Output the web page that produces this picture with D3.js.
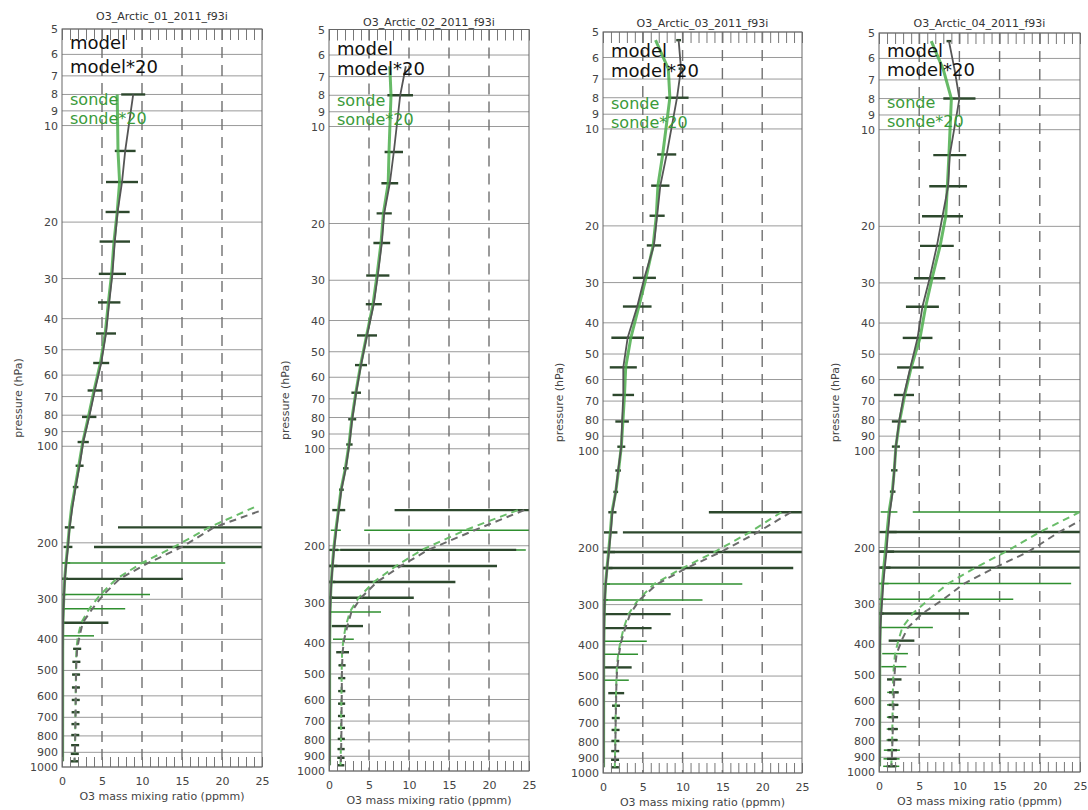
<!DOCTYPE html>
<html>
<head>
<meta charset="utf-8">
<script src="https://cdn.jsdelivr.net/npm/d3@7"></script>
<style>
  body { margin: 0; background: #fff; }
  svg { display: block; font-family: "DejaVu Sans", "Liberation Sans", sans-serif; }
</style>
</head>
<body>
<svg id="chart" width="1088" height="810"></svg>
<script>
// Pressure levels (hPa) shared by all profiles
const levels = [5.3, 6.5, 8, 12, 15, 18.6, 23, 29, 35.6, 44.5, 55, 67, 81, 97, 115, 134, 155, 179,
  206, 231, 259, 290, 321, 355, 390, 428, 470, 515, 565, 618, 675, 735, 795, 855, 910, 960];

const titles = ["O3_Arctic_01_2011_f93i", "O3_Arctic_02_2011_f93i", "O3_Arctic_03_2011_f93i", "O3_Arctic_04_2011_f93i"];
const yTicks = [5, 6, 7, 8, 9, 10, 20, 30, 40, 50, 60, 70, 80, 90, 100, 200, 300, 400, 500, 600, 700, 800, 900, 1000];
const xTicks = [0, 5, 10, 15, 20, 25];
const xGrid = [5, 10, 15, 20];
const legendLabels = ["model", "model*20", "sonde", "sonde*20"];
const scaleFactor = 20;      // tropospheric profiles are also shown multiplied by this
const scaledFrom = 150;      // hPa: the x20 profiles cover pressures at or below this level

// O3 mass mixing ratio (ppmm), one entry per level
const model01 = [null, null, 8.9, 7.9, 7.5, 6.95, 6.6, 6.3, 5.9, 5.5, 4.9, 4.1, 3.4, 2.65, 2.2, 1.7, 1.3, 0.95,
  0.75, 0.54, 0.36, 0.26, 0.19, 0.13, 0.11, 0.095, 0.09, 0.088, 0.087, 0.086, 0.085, 0.084, 0.083, 0.082, 0.08, 0.078];
const sonde01 = [null, null, 6.9, 7.0, 7.2, 6.9, 6.5, 6.2, 5.8, 5.4, 4.8, 4.0, 3.3, 2.6, 2.1, 1.65, 1.2, 0.92,
  0.7, 0.5, 0.34, 0.24, 0.17, 0.12, 0.1, 0.09, 0.088, 0.087, 0.086, 0.085, 0.084, 0.083, 0.082, 0.081, 0.08, 0.078];
const modelErr01 = [null, null, 1.5, 1.3, 2.0, 1.5, 1.9, 1.7, 1.4, 1.25, 1.0, 0.9, 0.9, 0.7, 0.5, 0.35, 0.04, 0.6,
  0.55, null, 0.395, null, null, 0.16, null, 0.025, 0.025, 0.025, 0.025, 0.025, 0.025, 0.025, 0.025, 0.025, 0.025, 0.025];
const sondeErr01 = [null, null, null, null, null, null, null, null, null, null, null, null, null, null, null, null, null, null,
  null, 0.52, null, 0.31, 0.225, null, 0.1, 0.02, 0.02, 0.02, 0.02, 0.02, 0.02, 0.02, 0.02, 0.02, 0.02, 0.02];

const model02 = [null, 9.6, 8.9, 8.1, 7.6, 6.9, 6.6, 6.1, 5.6, 4.75, 4.0, 3.4, 2.9, 2.55, 2.1, 1.55, 1.22, 0.91,
  0.62, 0.45, 0.3, 0.2, 0.14, 0.115, 0.095, 0.085, 0.082, 0.08, 0.08, 0.079, 0.078, 0.078, 0.077, 0.076, 0.075, 0.074];
const sonde02 = [null, 7.6, 7.75, 7.5, 7.4, 6.8, 6.5, 6.0, 5.5, 4.7, 3.95, 3.35, 2.85, 2.5, 2.05, 1.5, 1.18, 0.85,
  0.58, 0.42, 0.28, 0.185, 0.13, 0.105, 0.09, 0.082, 0.08, 0.079, 0.078, 0.077, 0.076, 0.075, 0.075, 0.074, 0.073, 0.072];
const modelErr02 = [null, null, 1.6, 1.15, 1.05, 0.95, 1.05, 1.45, 1.0, 1.25, 0.75, 0.6, 0.5, 0.4, 0.35, 0.3, 0.81, null,
  0.55, 0.6, 0.49, 0.33, null, 0.0975, null, 0.04, 0.022, 0.022, 0.022, 0.022, 0.022, 0.022, 0.022, 0.022, 0.022, 0.022];
const sondeErr02 = [null, null, null, null, null, null, null, null, null, null, null, null, null, null, null, null, null, 0.63,
  0.65, null, null, null, 0.195, null, 0.065, null, 0.02, 0.02, 0.02, 0.02, 0.02, 0.02, 0.02, 0.02, 0.02, 0.02];

const model03 = [9.5, 9.8, 9.3, 8.0, 7.2, 6.8, 6.4, 5.2, 4.3, 3.1, 2.55, 2.55, 2.4, 2.3, 1.9, 1.6, 1.18, 0.97,
  0.74, 0.525, 0.34, 0.23, 0.17, 0.14, 0.115, 0.1, 0.09, 0.085, 0.083, 0.082, 0.08, 0.079, 0.078, 0.077, 0.076, 0.075];
const sonde03 = [6.6, 8.2, 8.4, 7.5, 6.9, 6.7, 6.3, 5.4, 4.5, 3.5, 2.85, 2.7, 2.5, 2.3, 1.95, 1.6, 1.12, 0.92,
  0.7, 0.5, 0.32, 0.22, 0.16, 0.13, 0.11, 0.095, 0.087, 0.084, 0.082, 0.08, 0.079, 0.078, 0.077, 0.076, 0.075, 0.074];
const modelErr03 = [0.3, 0.3, 1.45, 1.2, 1.15, 0.95, 0.9, 1.45, 1.8, 2.05, 1.7, 1.35, 0.85, 0.5, 0.35, 0.3, 0.515, 0.845,
  0.78, 0.67, null, null, 0.255, 0.165, null, null, 0.09, null, 0.05, 0.025, 0.025, 0.025, 0.025, 0.025, 0.025, 0.025];
const sondeErr03 = [null, null, null, null, null, null, null, null, null, null, null, null, null, null, null, null, null, null,
  null, null, 0.555, 0.405, null, null, 0.165, 0.125, null, 0.078, null, 0.022, 0.022, 0.022, 0.022, 0.022, 0.022, 0.022];

const model04 = [8.7, 9.4, 10.0, 8.8, 8.6, 7.9, 7.2, 6.3, 5.4, 4.8, 3.9, 3.1, 2.5, 2.1, 1.9, 1.7, 1.35, 1.12,
  0.93, 0.72, 0.53, 0.4, 0.27, 0.18, 0.14, 0.11, 0.1, 0.095, 0.092, 0.09, 0.088, 0.086, 0.084, 0.082, 0.08, 0.078];
const sonde04 = [6.5, 8.0, 9.0, 8.7, 8.5, 8.3, 7.6, 6.6, 5.8, 5.1, 4.0, 3.2, 2.55, 2.1, 1.9, 1.65, 1.25, 1.0,
  0.79, 0.6, 0.43, 0.31, 0.21, 0.145, 0.12, 0.1, 0.092, 0.088, 0.086, 0.085, 0.084, 0.083, 0.082, 0.08, 0.078, 0.076];
const modelErr04 = [0.3, null, 2.0, 2.05, 2.35, 2.55, 2.1, 1.95, 2.05, 1.85, 1.65, 1.25, 0.9, 0.5, 0.4, 0.35, null, 1.08,
  0.95, 0.71, null, null, 0.29, null, 0.08, null, null, 0.045, 0.03, 0.03, 0.03, 0.03, 0.03, 0.03, 0.03, 0.03];
const sondeErr04 = [null, null, null, null, null, null, null, null, null, null, null, null, null, null, null, null, 1.04, null,
  null, null, 0.765, 0.525, null, 0.19, null, 0.08, 0.078, null, 0.035, 0.035, 0.035, 0.035, 0.035, 0.05, 0.05, 0.05];

const panels = [
  { title: titles[0], model: model01, sonde: sonde01, modelErr: modelErr01, sondeErr: sondeErr01 },
  { title: titles[1], model: model02, sonde: sonde02, modelErr: modelErr02, sondeErr: sondeErr02 },
  { title: titles[2], model: model03, sonde: sonde03, modelErr: modelErr03, sondeErr: sondeErr03 },
  { title: titles[3], model: model04, sonde: sonde04, modelErr: modelErr04, sondeErr: sondeErr04 }
];

// Plot frames (pixel layout of each panel)
const frames = [
  { x0: 62,  x1: 262,  y0: 29,   y1: 767, titleY: 20, legend: [49, 73, 105, 124] },
  { x0: 329, x1: 529,  y0: 29.5, y1: 771, titleY: 26, legend: [55, 75, 106, 125] },
  { x0: 603, x1: 802,  y0: 32,   y1: 773, titleY: 27, legend: [57, 77, 109, 128] },
  { x0: 879, x1: 1080, y0: 33,   y1: 772, titleY: 27, legend: [57, 76, 108, 127] }
];

const style = {
  grid: "#9a9a9a", vgrid: "#707070", frame: "#666", tick: "#777", text: "#444",
  modelLine: "#555555", sondeLine: "#4cae4c",
  modelDash: "#6b6b6b", sondeDash: "#69bd69",
  modelBar: "#2d482d", sondeBar: "#2f8f2f",
  modelText: "#111", sondeText: "#3a9a3a"
};

const svg = d3.select("#chart");
const defs = svg.append("defs");

panels.forEach((pd, i) => {
  const f = frames[i];
  const x = d3.scaleLinear().domain([0, 25]).range([f.x0, f.x1]);
  const y = d3.scaleLog().domain([5, 1000]).range([f.y0, f.y1]);
  const clipId = "plotclip" + i;
  defs.append("clipPath").attr("id", clipId)
    .append("rect").attr("x", f.x0).attr("y", f.y0)
    .attr("width", f.x1 - f.x0).attr("height", f.y1 - f.y0);

  const g = svg.append("g");

  // horizontal grid at each labelled pressure
  g.append("g").selectAll("line").data(yTicks).join("line")
    .attr("x1", f.x0).attr("x2", f.x1)
    .attr("y1", d => y(d)).attr("y2", d => y(d))
    .attr("stroke", style.grid).attr("stroke-width", 1);

  // vertical dashed grid
  g.append("g").selectAll("line").data(xGrid).join("line")
    .attr("x1", d => x(d)).attr("x2", d => x(d))
    .attr("y1", f.y0).attr("y2", f.y1)
    .attr("stroke", style.vgrid).attr("stroke-width", 1.4)
    .attr("stroke-dasharray", "11,7");

  const plot = g.append("g").attr("clip-path", `url(#${clipId})`);

  const rows = (vals, errs) => levels.map((p, k) => ({ p, v: vals[k], e: errs[k] }));
  const sondeRows = rows(pd.sonde, pd.sondeErr);
  const modelRows = rows(pd.model, pd.modelErr);
  const lower = data => data.filter(d => d.p >= scaledFrom);

  // error bars: plain profile everywhere, x20 profile in the troposphere
  const drawBars = (data, color, width) => {
    [[1, data], [scaleFactor, lower(data)]].forEach(([fac, set]) => {
      plot.append("g").selectAll("line")
        .data(set.filter(d => d.v != null && d.e != null)).join("line")
        .attr("x1", d => x(fac * (d.v - d.e))).attr("x2", d => x(fac * (d.v + d.e)))
        .attr("y1", d => y(d.p)).attr("y2", d => y(d.p))
        .attr("stroke", color).attr("stroke-width", width);
    });
  };
  drawBars(sondeRows, style.sondeBar, 1.5);
  drawBars(modelRows, style.modelBar, 2.4);

  const lineGen = fac => d3.line()
    .defined(d => d.v != null)
    .x(d => x(fac * d.v)).y(d => y(d.p));

  // x20 profiles (dashed)
  plot.append("path").datum(lower(sondeRows)).attr("d", lineGen(scaleFactor))
    .attr("fill", "none").attr("stroke", style.sondeDash).attr("stroke-width", 2)
    .attr("stroke-dasharray", "7,5");
  plot.append("path").datum(lower(modelRows)).attr("d", lineGen(scaleFactor))
    .attr("fill", "none").attr("stroke", style.modelDash).attr("stroke-width", 2)
    .attr("stroke-dasharray", "7,5");

  // profiles
  plot.append("path").datum(sondeRows).attr("d", lineGen(1))
    .attr("fill", "none").attr("stroke", style.sondeLine).attr("stroke-width", 3)
    .attr("stroke-opacity", 0.85);
  plot.append("path").datum(modelRows).attr("d", lineGen(1))
    .attr("fill", "none").attr("stroke", style.modelLine).attr("stroke-width", 1.8);

  // legend
  legendLabels.forEach((lab, k) => {
    g.append("text").attr("x", f.x0 + 8).attr("y", f.legend[k])
      .attr("font-size", k < 2 ? 18 : 16)
      .attr("fill", k < 2 ? style.modelText : style.sondeText)
      .text(lab);
  });

  // minor ticks along top and bottom
  const minor = d3.range(0, 26);
  const topAx = g.append("g").attr("transform", `translate(0,${f.y0})`)
    .call(d3.axisTop(x).tickValues(minor).tickSize(-11).tickFormat(""));
  const botAx = g.append("g").attr("transform", `translate(0,${f.y1})`)
    .call(d3.axisBottom(x).tickValues(minor).tickSize(-10).tickFormat(""));
  [topAx, botAx].forEach(a => {
    a.select(".domain").remove();
    a.selectAll("line").attr("stroke", style.tick).attr("stroke-width", 1);
  });

  // tick labels
  const xl = g.append("g").attr("transform", `translate(0,${f.y1})`)
    .call(d3.axisBottom(x).tickValues(xTicks).tickSize(0).tickPadding(10).tickFormat(d3.format("d")));
  const yl = g.append("g").attr("transform", `translate(${f.x0},0)`)
    .call(d3.axisLeft(y).tickValues(yTicks).tickSize(0).tickPadding(4).tickFormat(d3.format("d")));
  [xl, yl].forEach(a => {
    a.select(".domain").remove();
    a.selectAll("text").attr("fill", style.text).attr("font-size", 11)
      .attr("font-family", "DejaVu Sans, sans-serif");
  });

  // frame
  g.append("rect").attr("x", f.x0).attr("y", f.y0)
    .attr("width", f.x1 - f.x0).attr("height", f.y1 - f.y0)
    .attr("fill", "none").attr("stroke", style.frame).attr("stroke-width", 1);

  // titles
  g.append("text").attr("x", (f.x0 + f.x1) / 2).attr("y", f.titleY)
    .attr("text-anchor", "middle").attr("font-size", 11).attr("fill", "#333")
    .text(pd.title);
  g.append("text").attr("x", (f.x0 + f.x1) / 2).attr("y", f.y1 + 33)
    .attr("text-anchor", "middle").attr("font-size", 11).attr("fill", style.text)
    .text("O3 mass mixing ratio (ppmm)");
  g.append("text")
    .attr("transform", `translate(${f.x0 - 44},${(f.y0 + f.y1) / 2}) rotate(-90)`)
    .attr("text-anchor", "middle").attr("dominant-baseline", "central")
    .attr("font-size", 11).attr("fill", style.text)
    .text("pressure (hPa)");
});
</script>
</body>
</html>
